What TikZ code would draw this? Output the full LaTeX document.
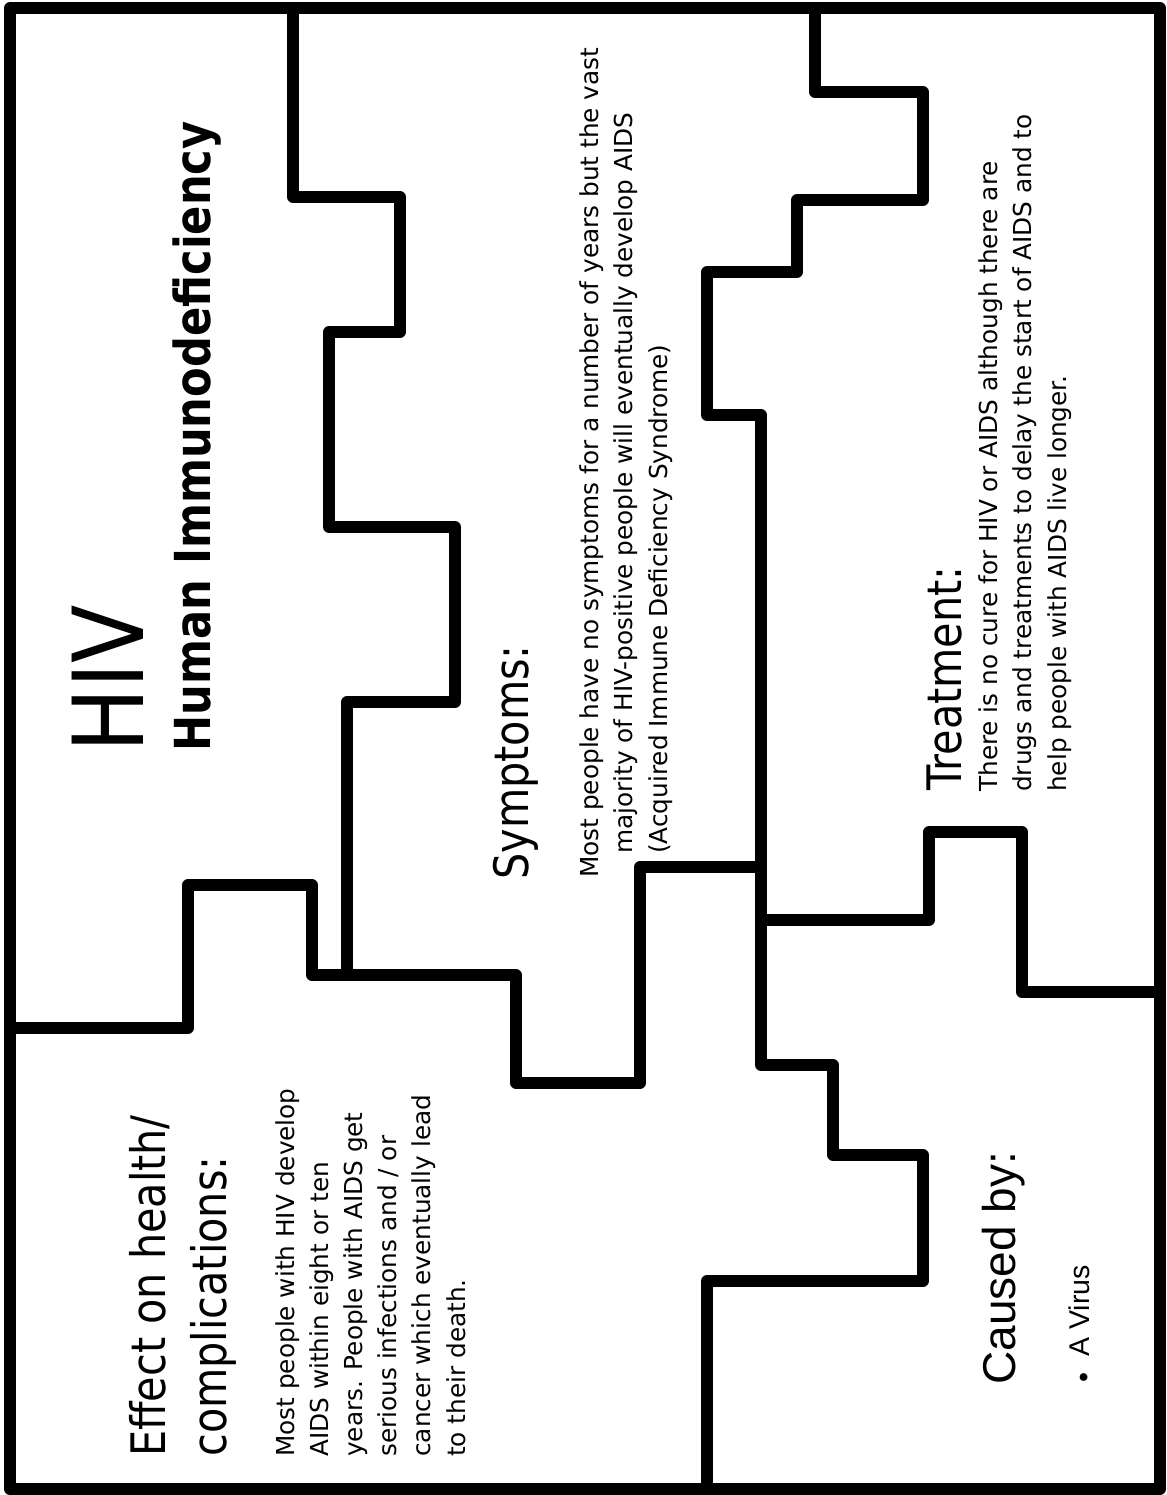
\documentclass[tikz,border=0pt]{standalone}
\usepackage{fontspec}
\setmainfont{DejaVu Sans}
\newfontfamily\headfont[FakeStretch=0.87]{DejaVu Sans}
\newfontfamily\causefont{Liberation Sans}
\begin{document}
\begin{tikzpicture}[x=0.025cm, y=-0.025cm,
        wall/.style={line width=8.2pt, line join=round},
        label/.style={rotate=90, anchor=base west, inner sep=0pt, align=left},
        head/.style={label, font=\headfont\fontsize{33.8}{42.7}\selectfont},
        body/.style={label, font=\fontsize{17.6}{24.2}\selectfont}]
    \useasboundingbox (0,0) rectangle (1166,1495);
    \draw[wall] (10,8) rectangle (1160,1489);
    \draw[wall] (293,8) |- (400,197) |- (329,332) |- (455,527) |- (347,702) -- (347,975);
    \draw[wall] (10,1028) -| (188,885) -| (312,975) -| (516,1083) -| (640,867) -- (761,867);
    \draw[wall] (815,8) |- (923,92) |- (797,200) |- (707,272) |- (761,415) |- (833,1065) |- (923,1155) |- (707,1281) -- (707,1489);
    \draw[wall] (761,920) -| (929,832) -| (1022,992) -- (1160,992);
    \node[label, font=\headfont\fontsize{69.7}{80}\selectfont] (hiv) at (143.5,753) {HIV};
    \node[label, font=\headfont\bfseries\fontsize{35.3}{40}\selectfont] (fullname) at (210.5,752) {Human Immunodeficiency};
    \node[head] (symhead) at (528,880) {Symptoms:};
    \node[body] (symtext) at (667,878) {Most people have no symptoms for a number of years but the vast\\\hspace*{17pt}majority of HIV-positive people will eventually develop AIDS\\\hspace*{17pt}(Acquired Immune Deficiency Syndrome)};
    \node[head] (treathead) at (961,791) {Treatment:};
    \node[body] (treattext) at (1066,792) {There is no cure for HIV or AIDS although there are\\drugs and treatments to delay the start of AIDS and to\\help people with AIDS live longer.};
    \node[head] (effhead) at (226,1457) {Effect on health/\\complications:};
    \node[body] (efftext) at (465,1457) {Most people with HIV develop\\AIDS within eight or ten\\years. People with AIDS get\\serious infections and / or\\cancer which eventually lead\\to their death.};
    \node[label, font=\causefont\fontsize{32.7}{38}\selectfont] (causehead) at (1015,1385) {Caused by:};
    \node[label, font=\causefont\fontsize{20.3}{24}\selectfont] (causetext) at (1089,1383) {\raisebox{-3.5pt}{•}\hspace{11.4pt}A Virus};
\end{tikzpicture}
\end{document}
